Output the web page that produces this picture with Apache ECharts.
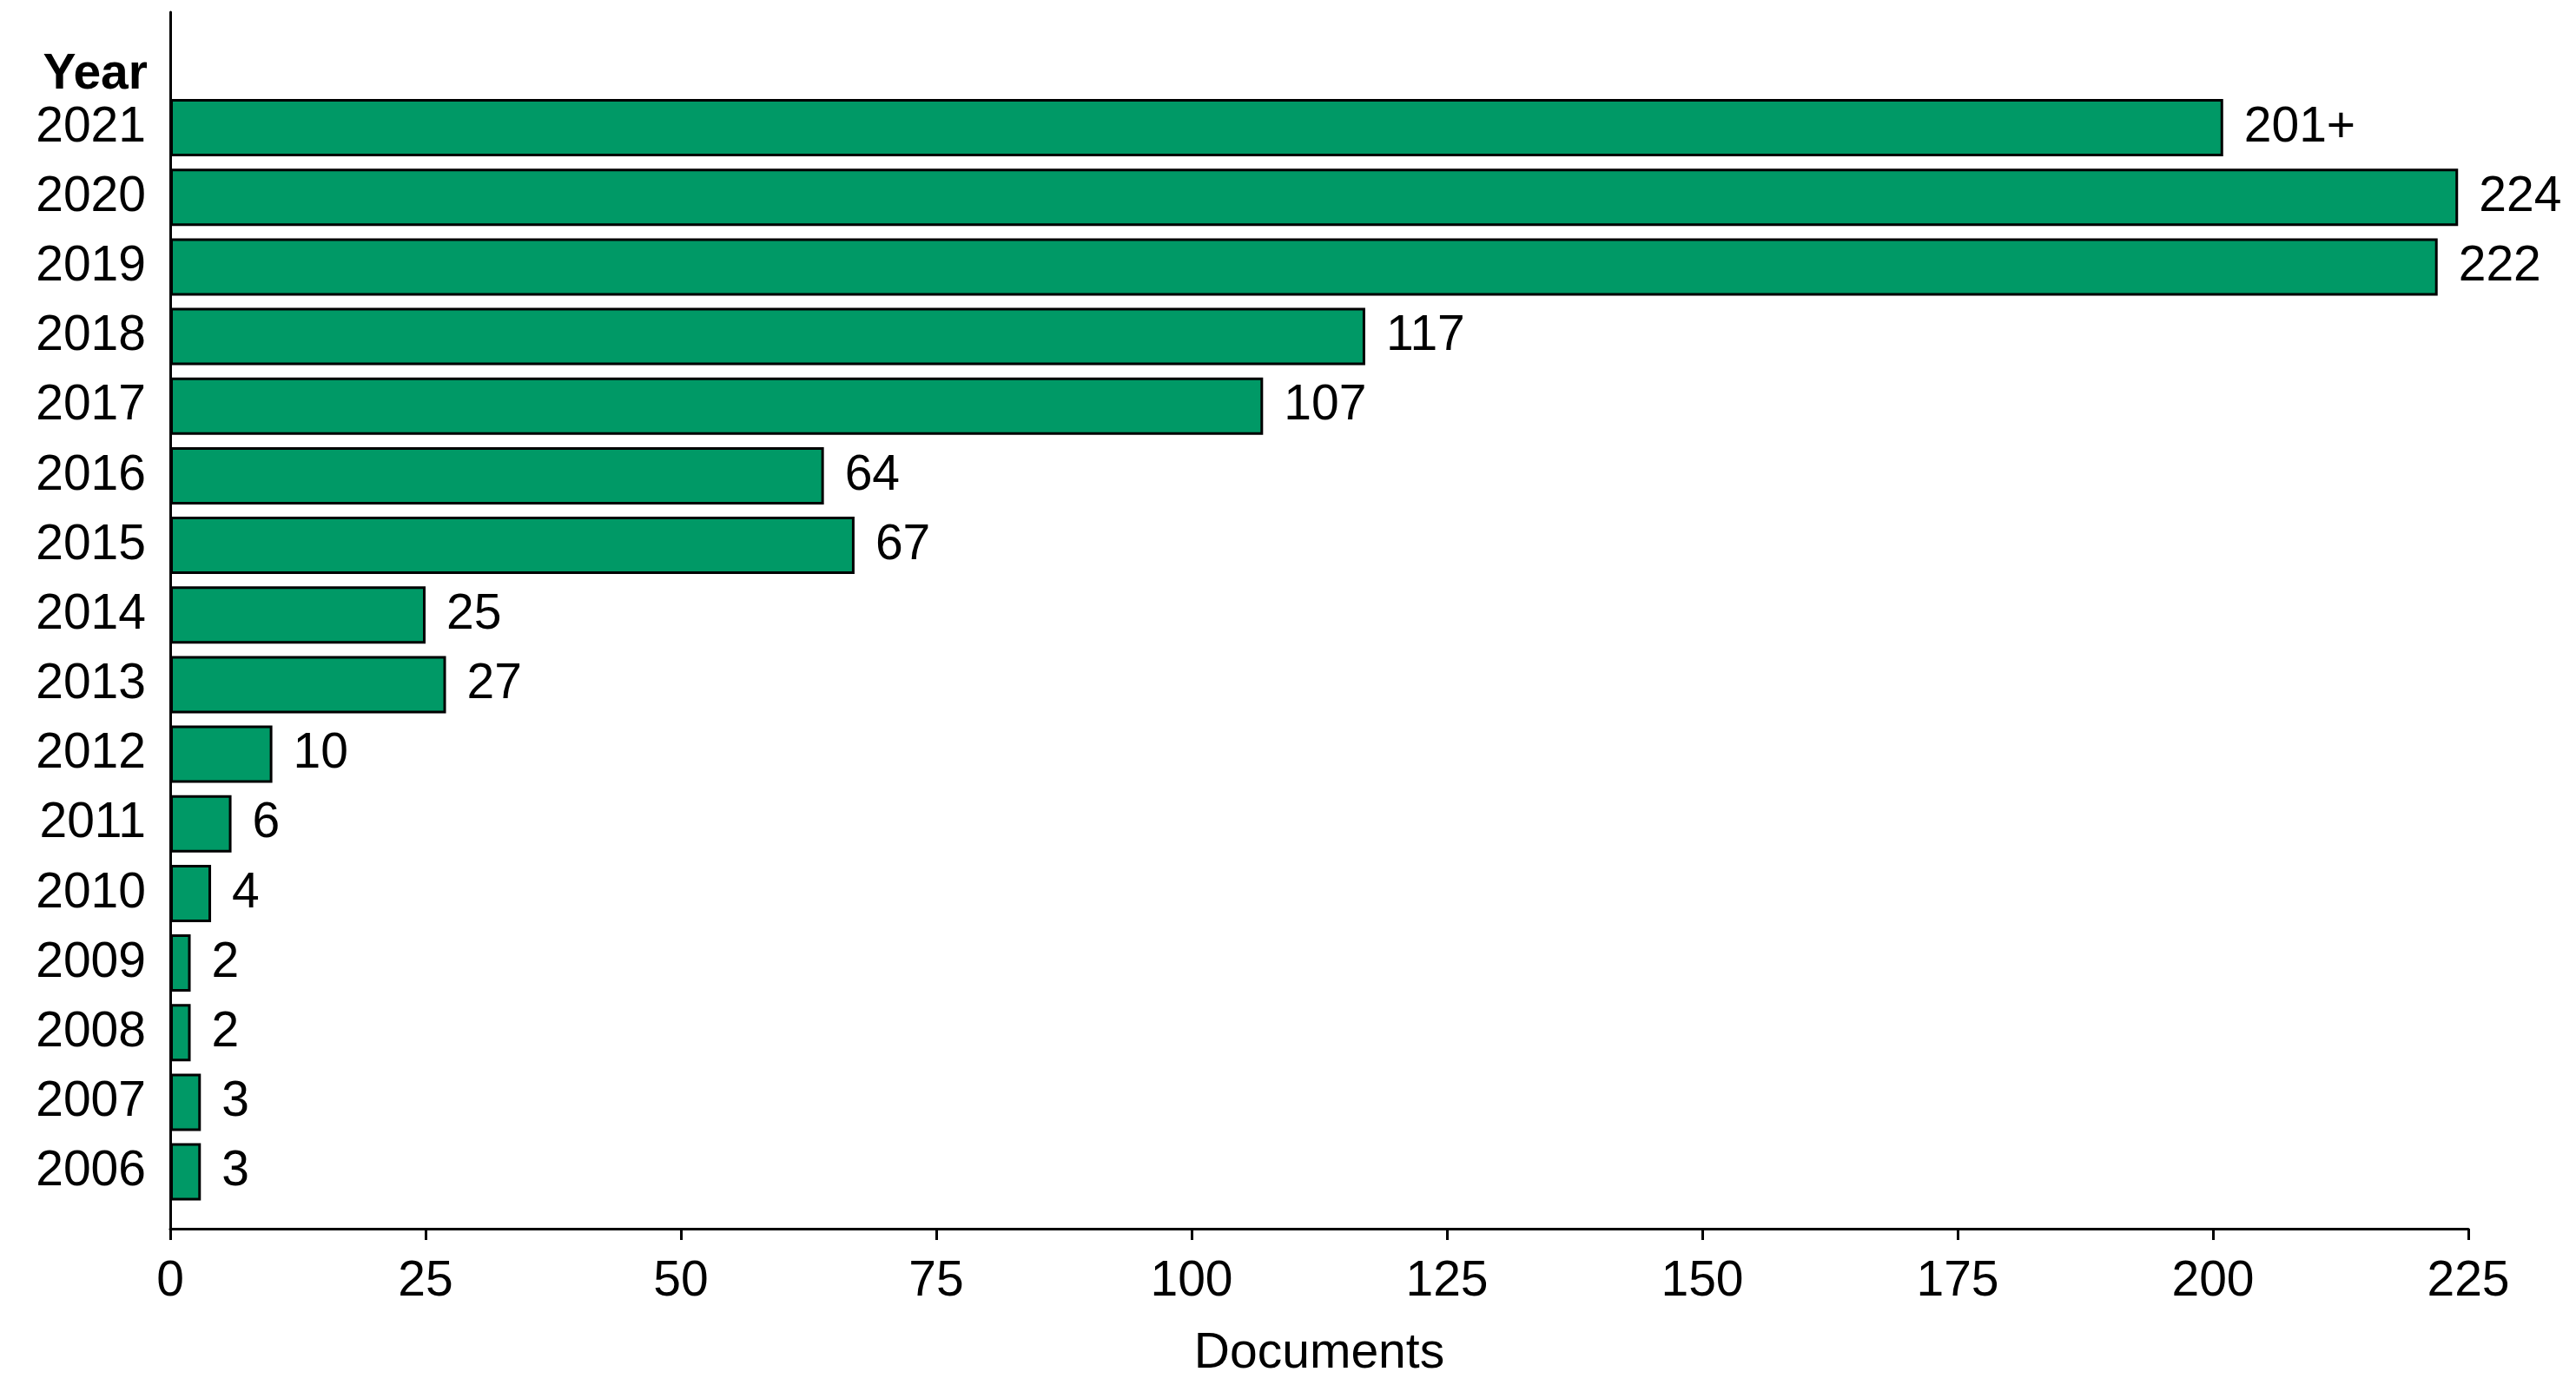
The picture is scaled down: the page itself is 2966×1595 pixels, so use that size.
<!DOCTYPE html>
<html>
<head>
<meta charset="utf-8">
<script src="https://cdn.jsdelivr.net/npm/echarts@6/dist/echarts.min.js"></script>
<style>html,body{margin:0;padding:0;background:#fff}#c{width:2966px;height:1595px}</style>
</head>
<body>
<div id="c"></div>
<script>
const years = ['2021','2020','2019','2018','2017','2016','2015','2014','2013','2012','2011','2010','2009','2008','2007','2006'];
const documents = [201, 224, 222, 117, 107, 64, 67, 25, 27, 10, 6, 4, 2, 2, 3, 3];
const valueLabels = ['201+','224','222','117','107','64','67','25','27','10','6','4','2','2','3','3'];
const xTicks = [0, 25, 50, 75, 100, 125, 150, 175, 200, 225];

const FONT = '"Liberation Sans", Arial, sans-serif';
const FS = 57;
const chart = echarts.init(document.getElementById('c'));
chart.setOption({
  animation: false,
  backgroundColor: '#ffffff',
  textStyle: { fontFamily: FONT },
  grid: [
    { left: 196, right: 124, top: 107, height: 1282.7, containLabel: false },
    { left: 196, right: 124, top: 14, height: 1401, containLabel: false }
  ],
  graphic: [{
    type: 'text', right: 2966 - 170, top: 58,
    style: { text: 'Year', font: 'bold ' + FS + 'px ' + FONT, fill: '#000', textAlign: 'right' }
  }],
  xAxis: [
    { gridIndex: 0, type: 'value', min: 0, max: 225, show: false },
    { gridIndex: 1, type: 'value', min: 0, max: 225, interval: 25,
      axisLine: { show: true, lineStyle: { color: '#000', width: 3 } },
      axisTick: { show: true, inside: false, length: 13, lineStyle: { color: '#000', width: 3 } },
      axisLabel: { show: true, margin: 33, color: '#000', fontSize: FS, fontFamily: FONT,
        formatter: v => (xTicks.indexOf(v) >= 0 ? String(v) : '') },
      splitLine: { show: false },
      name: 'Documents', nameLocation: 'middle', nameGap: 116,
      nameTextStyle: { color: '#000', fontSize: FS, fontFamily: FONT } }
  ],
  yAxis: [
    { gridIndex: 0, type: 'category', data: years, inverse: true,
      axisLine: { show: false }, axisTick: { show: false },
      axisLabel: { show: true, margin: 28, color: '#000', fontSize: FS, fontFamily: FONT, padding: [15, 0, 0, 0] },
      splitLine: { show: false } },
    { gridIndex: 1, type: 'value', min: 0, max: 1,
      axisLine: { show: true, lineStyle: { color: '#000', width: 3 } },
      axisTick: { show: false }, axisLabel: { show: false }, splitLine: { show: false } }
  ],
  series: [{
    type: 'bar', xAxisIndex: 0, yAxisIndex: 0,
    data: documents,
    barWidth: 66,
    itemStyle: { color: '#009966', borderColor: '#000', borderWidth: 3 },
    label: { show: true, position: 'right', distance: 24, color: '#000', fontSize: FS, fontFamily: FONT,
      padding: [15, 0, 0, 0],
      formatter: p => valueLabels[p.dataIndex] }
  }]
});
</script>
</body>
</html>
